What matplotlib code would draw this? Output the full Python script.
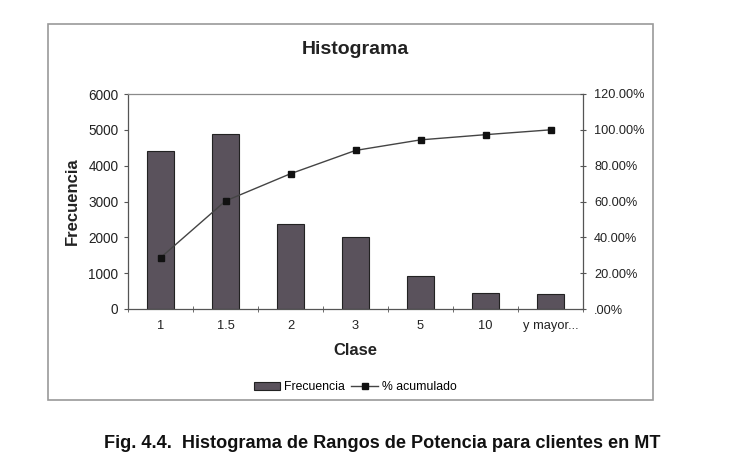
import matplotlib
matplotlib.use("Agg")
import matplotlib.pyplot as plt
from matplotlib.patches import Rectangle
import numpy as np

categories = ["1", "1.5", "2", "3", "5", "10", "y mayor..."]
frecuencia = [4420, 4890, 2360, 2000, 917, 445, 417]
acumulado = [28.6, 60.3, 75.5, 88.5, 94.4, 97.3, 100.0]
left_ticks = [0, 1000, 2000, 3000, 4000, 5000, 6000]
right_ticks = [0, 20, 40, 60, 80, 100, 120]
right_labels = [".00%", "20.00%", "40.00%", "60.00%", "80.00%", "100.00%", "120.00%"]

plt.rcParams['font.family'] = ['Liberation Sans', 'DejaVu Sans']

fig = plt.figure(figsize=(7.43, 4.74), dpi=100)
W, H = 743, 474

# outer chart frame
fig.patches.append(Rectangle((48 / W, 1 - 400 / H), (653 - 48) / W, (400 - 24) / H,
                             transform=fig.transFigure, fill=False,
                             edgecolor="#9a9a9a", linewidth=1.2))

ax = fig.add_axes([128 / W, 1 - 309 / H, (583 - 128) / W, (309 - 94) / H])
x = np.arange(len(categories))
ax.bar(x, frecuencia, width=0.41, color="#5a525c", edgecolor="#222222", linewidth=0.8, label="Frecuencia")
ax.set_xlim(-0.5, len(categories) - 0.5)
ax.set_ylim(0, 6000)
ax.set_yticks(left_ticks)
ax.set_yticklabels([str(t) for t in left_ticks], fontsize=9.8, color="#222222")
ax.set_xticks(x)
ax.set_xticklabels(categories, fontsize=9.3, color="#222222")
ax.tick_params(axis="x", length=0, pad=8)
ax.set_xticks(np.arange(-0.5, len(categories) + 0.5, 1), minor=True)
ax.tick_params(axis="x", which="minor", length=4, direction="inout", color="#555555")
ax.tick_params(axis="y", length=3, direction="out", color="#555555", pad=4)
for s in ["left", "bottom", "right"]:
    ax.spines[s].set_color("#555555")
    ax.spines[s].set_linewidth(0.9)
ax.spines["top"].set_color("#8a8a8a")
ax.spines["top"].set_linewidth(0.9)
ax.set_xlabel("Clase", fontsize=12, fontweight="bold", labelpad=8, color="#222222")
ax.set_ylabel("Frecuencia", fontsize=12, fontweight="bold", labelpad=6, color="#222222")
ax.set_title("Histograma", fontsize=14, fontweight="bold", pad=29, color="#222222")

ax2 = ax.twinx()
ax2.plot(x, acumulado, color="#444444", linewidth=1.0, marker="s", markersize=4,
         markerfacecolor="#111111", markeredgecolor="#111111", label="% acumulado")
ax2.set_ylim(0, 120)
ax2.set_yticks(right_ticks)
ax2.set_yticklabels(right_labels, fontsize=9.2, color="#222222")
ax2.tick_params(axis="y", length=4, direction="inout", color="#555555", pad=6)
for s in ["left", "bottom", "top", "right"]:
    ax2.spines[s].set_visible(False)

h1, l1 = ax.get_legend_handles_labels()
h2, l2 = ax2.get_legend_handles_labels()
fig.legend(h1 + h2, l1 + l2, loc="center", bbox_to_anchor=(355 / W, 1 - 387 / H), ncol=2,
           frameon=False, fontsize=8.8, handlelength=2.2, handleheight=0.6, columnspacing=0.5,
           handletextpad=0.3)

fig.text(382 / W, 1 - 444 / H, "Fig. 4.4.  Histograma de Rangos de Potencia para clientes en MT",
         ha="center", va="center", fontsize=13.1, fontweight="bold", color="#111111")

fig.savefig("out.png", dpi=100)
